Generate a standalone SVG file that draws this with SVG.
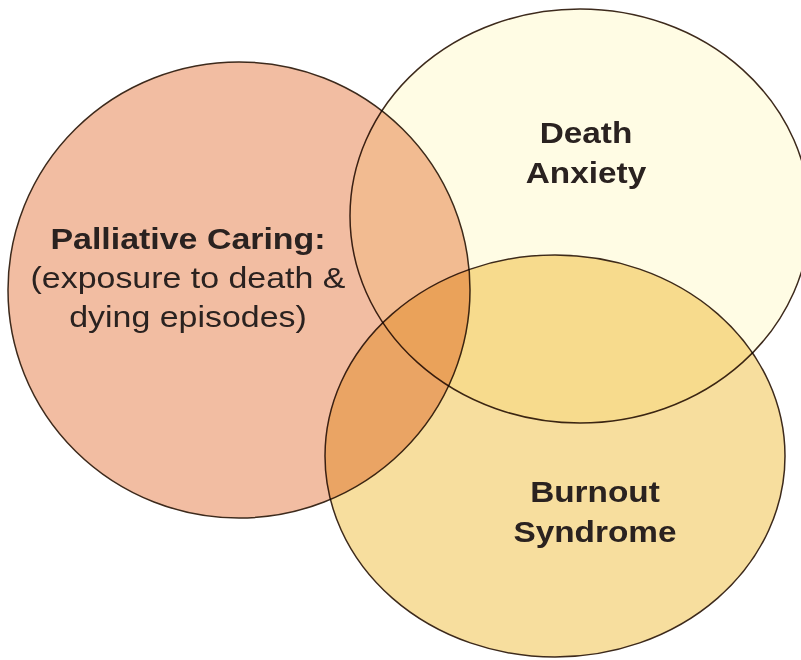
<svg xmlns="http://www.w3.org/2000/svg" width="801" height="660" viewBox="0 0 801 660">
<style>
.c{stroke:#3d2a1c;stroke-width:1.5;mix-blend-mode:multiply}
.t{font-family:"Liberation Sans",Arial,sans-serif;font-size:29px;fill:#2a2220;text-anchor:middle}
.b{font-weight:bold}
</style>
<rect width="801" height="660" fill="#ffffff"/>
<g id="death-anxiety">
<ellipse class="c" cx="580" cy="216" rx="230" ry="207" fill="#FFFCE4"/>
</g>
<g id="burnout-syndrome">
<ellipse class="c" cx="555" cy="456" rx="230" ry="201" fill="#F7DE9E"/>
</g>
<g id="palliative-caring">
<ellipse class="c" cx="239" cy="290" rx="231" ry="228" fill="#F2BDA2"/>
</g>
<g id="labels">
<text class="t b" transform="translate(188,249) scale(1.17,1)">Palliative Caring:</text>
<text class="t" transform="translate(188,288) scale(1.17,1)">(exposure to death &amp;</text>
<text class="t" transform="translate(188,327) scale(1.17,1)">dying episodes)</text>
<text class="t b" transform="translate(586,143) scale(1.15,1)">Death</text>
<text class="t b" transform="translate(586,183) scale(1.15,1)">Anxiety</text>
<text class="t b" transform="translate(595,502) scale(1.15,1)">Burnout</text>
<text class="t b" transform="translate(595,542) scale(1.15,1)">Syndrome</text>
</g>
</svg>
